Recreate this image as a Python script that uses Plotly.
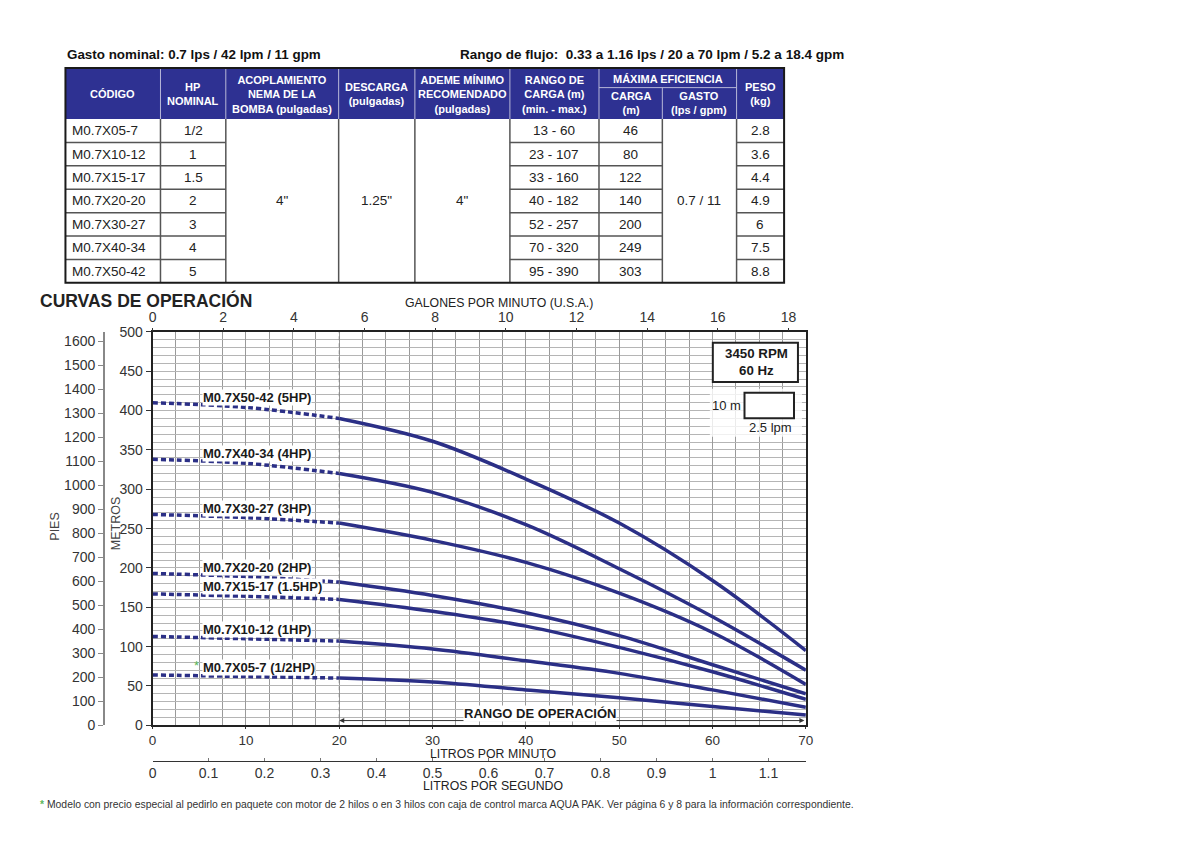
import plotly.graph_objects as go

# ---------------- DATA ----------------
codes = ["M0.7X05-7", "M0.7X10-12", "M0.7X15-17", "M0.7X20-20", "M0.7X30-27", "M0.7X40-34", "M0.7X50-42"]
hp_nominal = ["1/2", "1", "1.5", "2", "3", "4", "5"]
carga_range = ["13 - 60", "23 - 107", "33 - 160", "40 - 182", "52 - 257", "70 - 320", "95 - 390"]
carga_max_ef = ["46", "80", "122", "140", "200", "249", "303"]
peso = ["2.8", "3.6", "4.4", "4.9", "6", "7.5", "8.8"]
acoplamiento = '4"'
descarga = '1.25"'
ademe = '4"'
gasto_max_ef = "0.7 / 11"

curve_names = ["M0.7X50-42 (5HP)", "M0.7X40-34 (4HP)", "M0.7X30-27 (3HP)", "M0.7X20-20 (2HP)",
               "M0.7X15-17 (1.5HP)", "M0.7X10-12 (1HP)", "M0.7X05-7 (1/2HP)"]
flow_lpm = [0, 10, 20, 30, 40, 50, 60, 70]
head_5hp = [410, 404, 390, 361, 313, 257, 184, 95]
head_4hp = [338, 333, 320, 296, 255, 199, 138, 70]
head_3hp = [268, 264, 257, 235, 207, 168, 118, 52]
head_2hp = [193, 189, 182, 165, 143, 114, 77, 40]
head_15hp = [167, 164, 160, 145, 126, 99, 68, 33]
head_1hp = [113, 110, 107, 97, 82, 66, 45, 23]
head_05hp = [64, 62, 60, 55, 45, 35, 24, 13]
heads = [head_5hp, head_4hp, head_3hp, head_2hp, head_15hp, head_1hp, head_05hp]

lpm_ticks = [0, 10, 20, 30, 40, 50, 60, 70]
gpm_ticks = [0, 2, 4, 6, 8, 10, 12, 14, 16, 18]
lps_ticks = [0, 0.1, 0.2, 0.3, 0.4, 0.5, 0.6, 0.7, 0.8, 0.9, 1, 1.1]
m_ticks = list(range(0, 501, 50))
ft_ticks = list(range(0, 1601, 100))
op_range = [20, 70]

# ---------------- LAYOUT HELPERS ----------------
OFF = 8              # default page margin of the html body
W, H = 1184, 844     # figure size so the page fits the window exactly
def px(x):
    return (x - OFF) / W
def py(y):
    return 1 - (y - OFF) / H

NAVY = "#2e3192"
CURVE = "#2b2f86"
SANS = "Liberation Sans, Arial"

fig = go.Figure()

split = flow_lpm.index(op_range[0])
for name, h in zip(curve_names, heads):
    fig.add_trace(go.Scatter(x=flow_lpm[:split + 1], y=h[:split + 1], mode="lines",
                             line=dict(color=CURVE, width=3.5, dash="5px,3px", shape="spline"),
                             showlegend=False, hoverinfo="skip"))
    fig.add_trace(go.Scatter(x=flow_lpm[split:], y=h[split:], mode="lines",
                             line=dict(color=CURVE, width=3.5, shape="spline"),
                             name=name, showlegend=False))

# dummy traces to activate the extra axes
fig.add_trace(go.Scatter(x=[None], y=[None], xaxis="x2", yaxis="y", showlegend=False, hoverinfo="skip"))
fig.add_trace(go.Scatter(x=[None], y=[None], xaxis="x3", yaxis="y", showlegend=False, hoverinfo="skip"))
fig.add_trace(go.Scatter(x=[None], y=[None], xaxis="x", yaxis="y2", showlegend=False, hoverinfo="skip"))

shapes = []
annotations = []

def ptext(x, y, text, size, color="#222", xanchor="center", bold=False, angle=0):
    if bold:
        text = "<b>%s</b>" % text
    return dict(x=px(x), y=py(y), xref="paper", yref="paper", text=text, showarrow=False,
                xanchor=xanchor, yanchor="middle", textangle=angle,
                font=dict(family=SANS, size=size, color=color))

# curve labels
for name, h in zip(curve_names, heads):
    annotations.append(dict(x=5.3, y=h[1], xref="x", yref="y", text="<b>%s</b>" % name,
                            showarrow=False, xanchor="left", yanchor="bottom", yshift=1,
                            bgcolor="white", borderpad=0,
                            font=dict(family=SANS, size=13, color="#1a1a1a")))
annotations.append(dict(x=5.2, y=head_05hp[1], xref="x", yref="y", text="*", showarrow=False,
                        xanchor="right", yanchor="bottom", yshift=2,
                        font=dict(family=SANS, size=13, color="#5cb85c")))

# operating range
shapes.append(dict(type="line", xref="x", yref="y", x0=op_range[0], x1=op_range[0], y0=0, y1=500,
                   line=dict(color="#888", width=1, dash="4px,3px")))
annotations.append(dict(x=op_range[0], y=6, ax=op_range[1], ay=6, xref="x", yref="y", axref="x", ayref="y",
                        text="", showarrow=True, arrowhead=2, arrowside="end+start", arrowsize=1,
                        arrowwidth=1, arrowcolor="#333"))
annotations.append(dict(x=41.5, y=15, xref="x", yref="y", text="<b>RANGO DE OPERACIÓN</b>",
                        showarrow=False, bgcolor="white", borderpad=0, xanchor="center", yanchor="middle",
                        font=dict(family=SANS, size=13, color="#1a1a1a")))

# RPM box and scale legend
shapes.append(dict(type="rect", xref="paper", yref="paper", x0=px(716), x1=px(802), y0=py(381), y1=py(341),
                   fillcolor="white", line=dict(color="#222", width=2)))
annotations.append(ptext(760, 361, "3450 RPM<br>60 Hz", 13.3, "#1a1a1a", bold=True))
shapes.append(dict(type="rect", xref="paper", yref="paper", x0=px(713), x1=px(806), y0=py(437), y1=py(388),
                   fillcolor="rgba(255,255,255,0.8)", line=dict(width=0)))
shapes.append(dict(type="rect", xref="paper", yref="paper", x0=px(748), x1=px(798), y0=py(418), y1=py(392),
                   fillcolor="white", line=dict(color="#222", width=2)))
annotations.append(ptext(746, 405, "10 m", 13, xanchor="right"))
annotations.append(ptext(798, 427, "2.5 lpm", 13, xanchor="right"))

# titles
annotations += [
    ptext(500, 301, "GALONES POR MINUTO (U.S.A.)", 12.3),
    ptext(494, 760, "LITROS POR MINUTO", 12.3),
    ptext(494, 793, "LITROS POR SEGUNDO", 12.3),
    ptext(52, 528, "PIES", 12.5, "#444", angle=-90),
    ptext(113, 525, "METROS", 12.5, "#444", angle=-90),
    ptext(34, 298, "CURVAS DE OPERACIÓN", 17.5, "#222", xanchor="left", bold=True),
    ptext(62, 47, "Gasto nominal: 0.7 lps / 42 lpm / 11 gpm", 13.4, "#111", xanchor="left", bold=True),
    ptext(851, 47, "Rango de flujo:  0.33 a 1.16 lps / 20 a 70 lpm / 5.2 a 18.4 gpm", 13.5, "#111",
          xanchor="right", bold=True),
    ptext(34, 812, "<span style='color:#5cb85c'><b>*</b></span> Modelo con precio especial al pedirlo en paquete con motor de 2 hilos o en 3 hilos con caja de control marca AQUA PAK. Ver página 6 y 8 para la información correspondiente.",
          10.4, "#333", xanchor="left"),
]

# ---------------- TABLE ----------------
col_x = [62, 158, 224, 338, 415, 511, 601, 665, 740, 788]
t_top, h_bot, t_bot = 61, 113, 280
row_h = (t_bot - h_bot) / len(codes)
shapes.append(dict(type="rect", xref="paper", yref="paper", x0=px(col_x[0]), x1=px(col_x[-1]),
                   y0=py(h_bot), y1=py(t_top), fillcolor=NAVY, line=dict(width=0)))
for cx in col_x[1:-1]:
    y_start = 81 if cx == 665 else t_top
    shapes.append(dict(type="line", xref="paper", yref="paper", x0=px(cx), x1=px(cx), y0=py(y_start), y1=py(h_bot),
                       line=dict(color="#b8b8d8", width=1)))
shapes.append(dict(type="line", xref="paper", yref="paper", x0=px(601), x1=px(740), y0=py(81), y1=py(81),
                   line=dict(color="#b8b8d8", width=1)))
for cx in col_x[1:-1]:
    shapes.append(dict(type="line", xref="paper", yref="paper", x0=px(cx), x1=px(cx), y0=py(h_bot), y1=py(t_bot),
                       line=dict(color="#555", width=1.5)))
for r in range(1, len(codes)):
    yy = h_bot + r * row_h
    for a, b in [(62, 224), (511, 665), (740, 788)]:
        shapes.append(dict(type="line", xref="paper", yref="paper", x0=px(a), x1=px(b), y0=py(yy), y1=py(yy),
                           line=dict(color="#555", width=1.5)))
shapes.append(dict(type="rect", xref="paper", yref="paper", x0=px(col_x[0]), x1=px(col_x[-1]),
                   y0=py(t_bot), y1=py(t_top), line=dict(color="#1a1a1a", width=2)))

headers = [
    ((62 + 158) / 2, 88, "CÓDIGO"),
    ((158 + 224) / 2, 88, "HP<br>NOMINAL"),
    ((224 + 338) / 2, 88, "ACOPLAMIENTO<br>NEMA DE LA<br>BOMBA (pulgadas)"),
    ((338 + 415) / 2, 88, "DESCARGA<br>(pulgadas)"),
    ((415 + 511) / 2, 88, "ADEME MÍNIMO<br>RECOMENDADO<br>(pulgadas)"),
    ((511 + 601) / 2, 88, "RANGO DE<br>CARGA (m)<br>(min. - max.)"),
    ((601 + 740) / 2, 72, "MÁXIMA EFICIENCIA"),
    ((601 + 665) / 2, 97, "CARGA<br>(m)"),
    ((665 + 740) / 2, 97, "GASTO<br>(lps / gpm)"),
    ((740 + 788) / 2, 88, "PESO<br>(kg)"),
]
for x, y, t in headers:
    annotations.append(ptext(x, y, t, 11, "white", bold=True))

for r in range(len(codes)):
    yc = h_bot + (r + 0.5) * row_h
    annotations.append(ptext(67, yc, codes[r], 13.5, "#222", xanchor="left"))
    for (a, b), vals in [((158, 224), hp_nominal), ((511, 601), carga_range), ((601, 665), carga_max_ef),
                         ((740, 788), peso)]:
        annotations.append(ptext((a + b) / 2, yc, vals[r], 13.5, "#222"))
ymid = (h_bot + t_bot) / 2
for (a, b), val in [((224, 338), acoplamiento), ((338, 415), descarga), ((415, 511), ademe),
                    ((665, 740), gasto_max_ef)]:
    annotations.append(ptext((a + b) / 2, ymid, val, 13.5, "#222"))

# ---------------- AXES ----------------
tick_font = dict(family=SANS, size=14, color="#333")
fig.update_layout(
    width=W, height=H, autosize=False,
    margin=dict(l=0, r=0, t=0, b=0),
    paper_bgcolor="white", plot_bgcolor="white",
    showlegend=False,
    xaxis=dict(domain=[px(150), px(810)], range=[0, 70], tickvals=lpm_ticks, ticks="outside", ticklen=2,
               tickcolor="#333", showline=True, linecolor="#222", linewidth=2, mirror=True,
               showgrid=True, gridcolor="#9a9a9a", gridwidth=1, zeroline=False,
               minor=dict(dtick=2.5, showgrid=True, gridcolor="#9a9a9a", gridwidth=1),
               tickfont=dict(family=SANS, size=13.5, color="#333"), fixedrange=True),
    xaxis2=dict(overlaying="x", side="top", anchor="y", range=[0, 70 / 3.785411784], tickvals=gpm_ticks,
                ticks="outside", ticklen=3, tickcolor="#333", showgrid=False, showline=False,
                zeroline=False, tickfont=tick_font, fixedrange=True),
    xaxis3=dict(overlaying="x", anchor="free", position=py(767), side="bottom", range=[0, 70 / 60],
                tickvals=lps_ticks, ticktext=[str(v) for v in lps_ticks], ticks="inside", ticklen=3,
                tickcolor="#777", showgrid=False,
                showline=True, linecolor="#333", linewidth=1, zeroline=False, tickfont=tick_font,
                fixedrange=True),
    yaxis=dict(domain=[py(731), py(330)], range=[0, 500], tickvals=m_ticks, ticks="outside", ticklen=5,
               tickcolor="#333", showline=True, linecolor="#222", linewidth=2, mirror=True,
               showgrid=True, gridcolor="#b5b5b5", gridwidth=1, zeroline=False,
               minor=dict(dtick=10, showgrid=True, gridcolor="#b5b5b5", gridwidth=1),
               tickfont=tick_font, fixedrange=True),
    yaxis2=dict(overlaying="y", anchor="free", position=px(101), side="left", range=[0, 500 * 3.28084],
                tickvals=ft_ticks, ticks="outside", ticklen=5, tickcolor="#888", showgrid=False,
                showline=True, linecolor="#888", linewidth=2, zeroline=False, tickfont=tick_font,
                fixedrange=True),
    shapes=shapes,
    annotations=annotations,
)

fig.write_html("out.html")
